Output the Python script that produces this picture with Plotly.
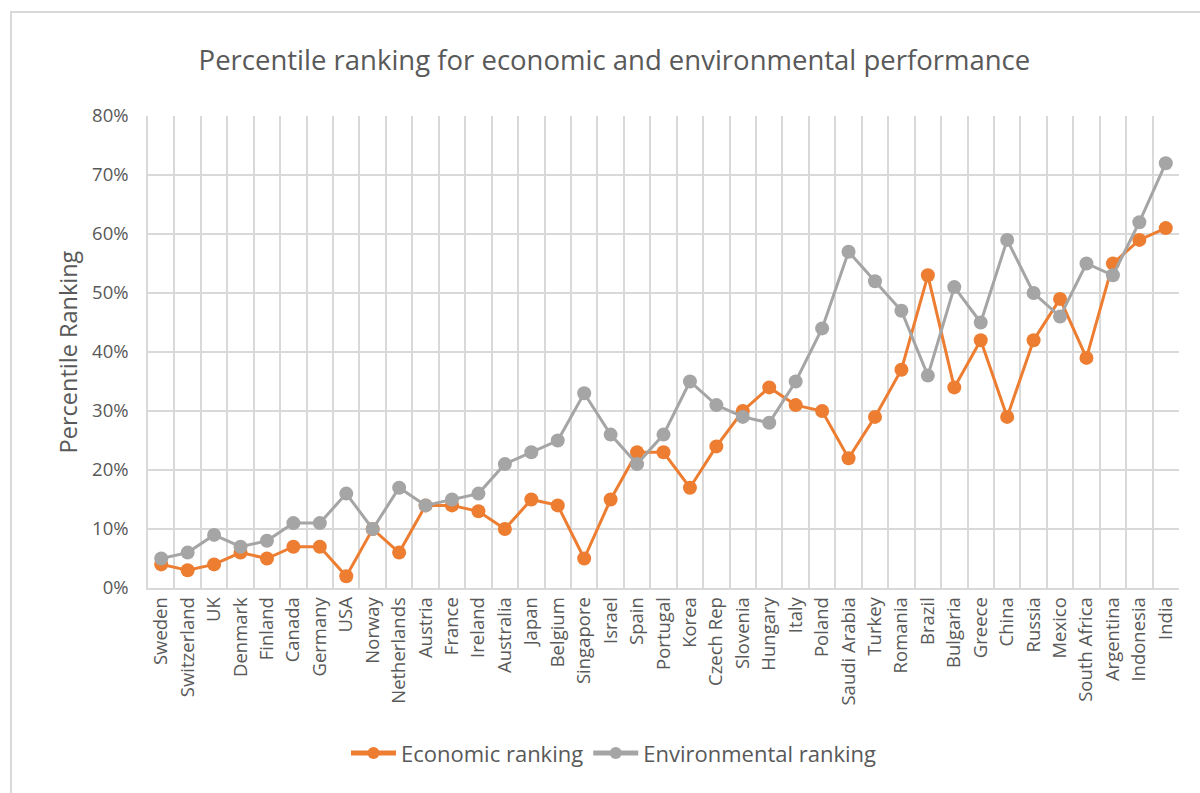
import plotly.graph_objects as go

countries = ["Sweden", "Switzerland", "UK", "Denmark", "Finland", "Canada", "Germany", "USA",
             "Norway", "Netherlands", "Austria", "France", "Ireland", "Australia", "Japan",
             "Belgium", "Singapore", "Israel", "Spain", "Portugal", "Korea", "Czech Rep",
             "Slovenia", "Hungary", "Italy", "Poland", "Saudi Arabia", "Turkey", "Romania",
             "Brazil", "Bulgaria", "Greece", "China", "Russia", "Mexico", "South Africa",
             "Argentina", "Indonesia", "India"]
economic = [4, 3, 4, 6, 5, 7, 7, 2, 10, 6, 14, 14, 13, 10, 15, 14, 5, 15, 23, 23, 17, 24,
            30, 34, 31, 30, 22, 29, 37, 53, 34, 42, 29, 42, 49, 39, 55, 59, 61]
environmental = [5, 6, 9, 7, 8, 11, 11, 16, 10, 17, 14, 15, 16, 21, 23, 25, 33, 26, 21, 26,
                 35, 31, 29, 28, 35, 44, 57, 52, 47, 36, 51, 45, 59, 50, 46, 55, 53, 62, 72]

economic_f = [v / 100 for v in economic]
environmental_f = [v / 100 for v in environmental]

FONT = "Open Sans"
TXT = "#595959"
GRID = "#d9d9d9"

fig = go.Figure()
fig.add_trace(go.Scatter(
    x=countries, y=economic_f, name="Economic ranking", mode="lines+markers",
    line=dict(color="#ED7D31", width=3), marker=dict(size=14, color="#ED7D31")))
fig.add_trace(go.Scatter(
    x=countries, y=environmental_f, name="Environmental ranking", mode="lines+markers",
    line=dict(color="#A5A5A5", width=3), marker=dict(size=14, color="#A5A5A5")))

fig.update_layout(
    width=1200, height=793,
    margin=dict(l=148, r=21, t=116, b=205),
    paper_bgcolor="white", plot_bgcolor="white",
    font=dict(family=FONT, color=TXT),
    title=dict(text="Percentile ranking for economic and environmental performance",
               x=0.512, xanchor="center", y=0.924, yanchor="middle",
               font=dict(size=27.5, color=TXT, family=FONT)),
    xaxis=dict(type="category", tickson="boundaries", showgrid=True, gridcolor=GRID,
               gridwidth=1.5, showline=True, linecolor=GRID, linewidth=1.5,
               tickangle=-90, tickfont=dict(size=18.5, color=TXT), ticks="",
               range=[-0.5, len(countries) - 0.5], mirror=False),
    yaxis=dict(range=[0, 0.8], dtick=0.1, tickformat=".0%", showgrid=True,
               gridcolor=GRID, gridwidth=1.5, showline=True, linecolor=GRID,
               linewidth=1.5, tickfont=dict(size=18.5, color=TXT),
               ticks="outside", ticklen=14, tickcolor="rgba(0,0,0,0)",
               zeroline=False,
               title=dict(text="Percentile Ranking", font=dict(size=23.5, color=TXT),
                          standoff=8)),
    legend=dict(orientation="h", x=0.452, xanchor="center", y=-0.35, yanchor="middle",
                font=dict(size=22, color=TXT), itemwidth=45, traceorder="normal",
                itemsizing="constant"),
    showlegend=True,
)

fig.add_shape(type="rect", xref="paper", yref="paper",
              x0=-0.1329, x1=1.2, y0=-0.6, y1=1.2203,
              line=dict(color=GRID, width=2), fillcolor="rgba(0,0,0,0)", layer="below")

fig.write_html("out.html")
